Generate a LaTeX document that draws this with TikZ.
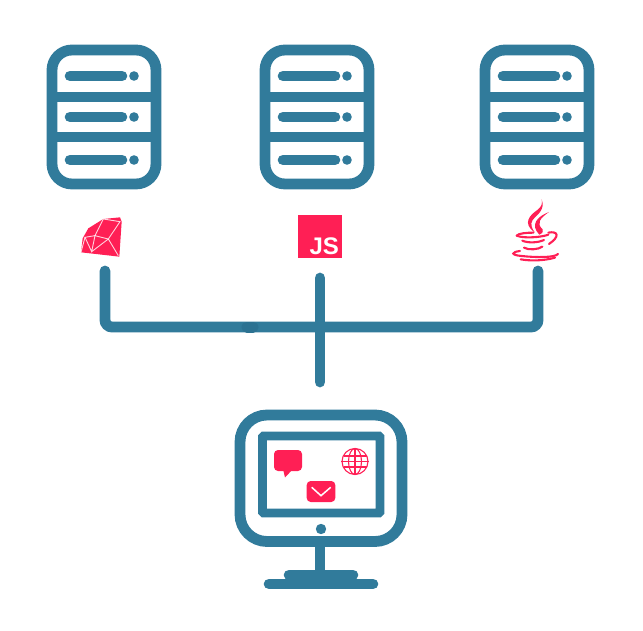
\documentclass[tikz,border=0pt]{standalone}
\usepackage{fontspec}
\setsansfont{Liberation Sans}
\usepackage{tikz}
\usetikzlibrary{positioning}
\definecolor{hostblue}{HTML}{317B9B}
\definecolor{wirejoin}{HTML}{2C7292}
\definecolor{iconred}{HTML}{FF1F55}
\tikzset{
  wire/.style={draw=hostblue, line width=10.8pt, line cap=round},
  frame/.style={draw=hostblue, line width=10.8pt, rounded corners=20pt},
  slotbar/.style={draw=hostblue, line width=10.6pt, line cap=round},
  steam/.style={fill=iconred, draw=none},
  cupline/.style={draw=iconred, line width=2.1pt, line cap=round},
  facet/.style={draw=white, draw opacity=0.8, line width=0.9pt},
  globeline/.style={draw=iconred, line width=1.1pt},
  serverbox/.pic={
    \draw[frame] (52,50) rectangle (156,184);
    \draw[hostblue, line width=10.8pt] (52,97) -- (156,97);
    \draw[hostblue, line width=10.8pt] (52,137) -- (156,137);
    \foreach \y in {76,117,160} {
      \draw[slotbar] (70,\y) -- (122,\y);
      \fill[hostblue] (134,\y) circle (4.8);
    }
  }
}
\begin{document}
\begin{tikzpicture}[x=1pt,y=-1pt]
  \useasboundingbox (0,0) rectangle (643,631);

  % Servers
  \pic at (0,0) {serverbox};
  \pic at (213,0) {serverbox};
  \pic at (433,0) {serverbox};

  % Ruby
  \begin{scope}[shift={(70,205)}, x=0.3333pt, y=-0.3333pt]
    \fill[iconred] (100,42) -- (150,37) -- (155,50) -- (148,155) -- (33,142) -- (38,100) -- (55,70) -- cycle;
    \draw[facet] (100,42) -- (75,92) -- (115,102) -- (150,50) -- cycle;
    \draw[facet] (115,102) -- (65,140) -- (75,92) -- (45,97) -- (65,140);
    \draw[facet] (115,102) -- (145,152);
    \draw[facet] (45,97) -- (33,142);
  \end{scope}

  % JS
  \node[fill=iconred, minimum width=44pt, minimum height=43pt, inner sep=0pt] (jsbox) at (320,236.5) {};
  \node[anchor=south east, inner sep=0pt, text=white, font=\sffamily\bfseries\fontsize{24}{24}\selectfont,
        xshift=-3pt, yshift=3pt] (jslabel) at (jsbox.south east) {JS};

  % Java
  \begin{scope}[shift={(480,190)}, x=0.3333pt, y=-0.3333pt]
    \fill[steam] (165,128) .. controls (125,100) and (150,75) .. (172,60) .. controls (185,50) and (188,40) .. (185,28)
      .. controls (197,60) and (170,75) .. (158,90) .. controls (150,102) and (155,115) .. (165,128) -- cycle;
    \fill[steam] (178,134) .. controls (150,105) and (170,80) .. (207,66)
      .. controls (180,85) and (168,100) .. (188,118) .. controls (190,128) and (185,132) .. (178,134) -- cycle;
    \draw[cupline] (110,137) .. controls (115,130) and (140,128) .. (160,128);
    \draw[cupline] (110,137) .. controls (130,146) and (185,142) .. (205,134);
    \draw[cupline] (205,128) .. controls (235,122) and (240,140) .. (207,162);
    \draw[cupline] (127,152) .. controls (145,160) and (175,158) .. (192,150);
    \draw[cupline] (132,173) .. controls (145,181) and (175,179) .. (187,170);
    \draw[cupline] (120,183) .. controls (95,186) and (90,195) .. (125,198) .. controls (170,203) and (225,203) .. (234,192);
    \draw[cupline] (122,208) .. controls (150,213) and (190,213) .. (225,203);
  \end{scope}

  % Wires
  \coordinate (rubyend) at (105,271);
  \coordinate (jsend)   at (320,278);
  \coordinate (javaend) at (538,271);
  \coordinate (hub)     at (320,327);
  \coordinate (pcend)   at (320,382);
  \draw[wire, rounded corners=7pt] (rubyend) |- (hub) -| (javaend);
  \draw[wire] (jsend) -- (pcend);
  \coordinate (joinleft)  at (247,327);
  \coordinate (joinright) at (253,327);
  \draw[draw=wirejoin, line width=11pt, line cap=round] (joinleft) -- (joinright);

  % Monitor
  \draw[frame, rounded corners=27pt] (240,415) rectangle (402,541.5);
  \draw[draw=hostblue, line width=8.6pt, rounded corners=1pt] (262.5,436) rectangle (380,513);
  \fill[hostblue] (321,529) circle (5.2);
  \coordinate (stemtop) at (320,546);
  \coordinate (stembot) at (320,575);
  \draw[hostblue, line width=10.6pt] (stemtop) -- (stembot);
  \draw[slotbar] (289,575) -- (353,575);
  \draw[slotbar] (269,584) -- (373,584);

  % Screen icons
  \fill[iconred, rounded corners=4pt] (274,450) rectangle (302,471);
  \fill[iconred] (283,469) -- (285,477.5) -- (293,469) -- cycle;
  \node[circle, draw=iconred, line width=1.1pt, minimum size=26pt, inner sep=0pt] (globe) at (355,461.5) {};
  \draw[globeline] (globe.north) -- (globe.south);
  \draw[globeline] (globe.west) -- (globe.east);
  \draw[globeline] (355,461.5) ellipse (6.5 and 13);
  \draw[globeline] (343.5,456) -- (366.5,456);
  \draw[globeline] (343.5,467) -- (366.5,467);
  \fill[iconred, rounded corners=4pt] (306.7,481) rectangle (335.3,502);
  \draw[draw=white, line width=1.5pt] (311.7,487.3) -- (321,495.7) -- (330.7,487.3);
\end{tikzpicture}
\end{document}
